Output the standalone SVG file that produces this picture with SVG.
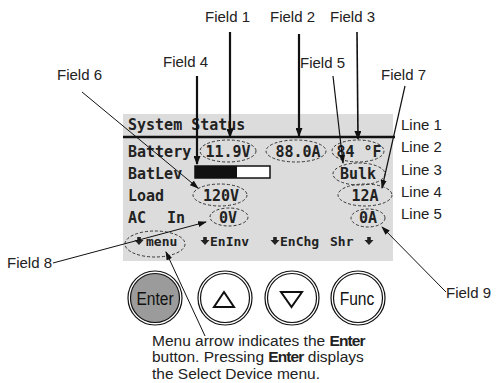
<svg xmlns="http://www.w3.org/2000/svg" width="496" height="383" viewBox="0 0 496 383">
<style>
.lbl{font-family:"Liberation Sans",Arial,sans-serif;font-size:15px;fill:#222}
.line{font-family:"Liberation Sans",Arial,sans-serif;font-size:15px;fill:#222}
.lcd{font-family:"DejaVu Sans Mono",monospace;font-size:15px;font-weight:bold;fill:#222}
.lcdv{font-family:"DejaVu Sans Mono",monospace;font-size:15px;font-weight:bold;fill:#222;text-anchor:middle}
.soft{font-family:"DejaVu Sans Mono",monospace;font-size:13px;font-weight:bold;fill:#222}
.dash{fill:none;stroke:#333;stroke-width:1;stroke-dasharray:3 2}
.btn{font-family:"Liberation Sans",Arial,sans-serif;font-size:19px;fill:#111;text-anchor:middle}
.ring{fill:#fff;stroke:#111;stroke-width:1.2}
.inner{fill:#fff;stroke:#111;stroke-width:1.2}
.tri{fill:none;stroke:#111;stroke-width:2;stroke-linejoin:miter}
.con{fill:none;stroke:#111}
.note{font-family:"Liberation Sans",Arial,sans-serif;font-size:15.5px;fill:#222}
.b{font-family:"Liberation Sans",Arial,sans-serif;font-weight:bold;letter-spacing:-0.9px}
</style>
<defs>
<marker id="ah" markerUnits="userSpaceOnUse" markerWidth="9" markerHeight="7" refX="8" refY="3.5" orient="auto">
<path d="M0,0 L9,3.5 L0,7 z" fill="#111"/>
</marker>
<marker id="ahs" markerUnits="userSpaceOnUse" markerWidth="9" markerHeight="6" refX="8" refY="3" orient="auto">
<path d="M0,0 L9,3 L0,6 z" fill="#111"/>
</marker>
<path id="darr" d="M-1.8,0 L1.8,0 L1.8,3 L4.5,3 L0,8 L-4.5,3 L-1.8,3 z" fill="#222"/>
</defs>

<g id="panel">
<rect x="123" y="114" width="270" height="147" fill="#dcdcdc"/>
<line x1="123" y1="137" x2="395" y2="137" stroke="#111" stroke-width="2.5"/>
<text class="lcd" x="128" y="130">System Status</text>
<text class="lcd" x="128" y="157">Battery</text>
<text class="lcd" x="128" y="179">BatLev</text>
<rect x="195" y="166" width="75" height="12" fill="#fff" stroke="#111" stroke-width="1.5"/>
<rect x="195" y="166" width="42" height="12" fill="#111"/>
<text class="lcd" x="128" y="201">Load</text>
<text class="lcd" x="128" y="223">AC <tspan x="167">In</tspan></text>
</g>

<g id="field1"><text class="lcdv" x="228" y="157">11.9V</text><ellipse class="dash" cx="228" cy="151" rx="28" ry="11"/></g>
<g id="field2"><text class="lcdv" x="298" y="157">88.0A</text><ellipse class="dash" cx="296" cy="151" rx="30" ry="11"/></g>
<g id="field3"><text class="lcdv" x="359" y="157">84 °F</text><ellipse class="dash" cx="358" cy="151" rx="26" ry="11"/></g>
<g id="field5"><text class="lcdv" x="358" y="179">Bulk</text><ellipse class="dash" cx="359" cy="174" rx="26" ry="11"/></g>
<g id="field6"><text class="lcdv" x="221" y="201">120V</text><ellipse class="dash" cx="220" cy="195" rx="27" ry="11"/></g>
<g id="field7"><text class="lcdv" x="365" y="201">12A</text><ellipse class="dash" cx="365" cy="195" rx="27" ry="11"/></g>
<g id="field8"><text class="lcdv" x="228" y="223">0V</text><ellipse class="dash" cx="229" cy="217" rx="19" ry="9"/></g>
<g id="field9"><text class="lcdv" x="368" y="223">0A</text><ellipse class="dash" cx="368" cy="218" rx="17" ry="9"/></g>

<g id="softkeys">
<use href="#darr" x="139" y="237"/><text class="soft" x="146" y="246">menu</text>
<ellipse class="dash" cx="155" cy="244" rx="30" ry="13"/>
<use href="#darr" x="205" y="237"/><text class="soft" x="210" y="246">EnInv</text>
<use href="#darr" x="275" y="237"/><text class="soft" x="280" y="246">EnChg</text>
<text class="soft" x="330" y="246">Shr</text><use href="#darr" x="369" y="237"/>
</g>

<g id="line-labels">
<text class="line" x="401" y="130">Line 1</text>
<text class="line" x="401" y="152">Line 2</text>
<text class="line" x="401" y="175">Line 3</text>
<text class="line" x="401" y="197">Line 4</text>
<text class="line" x="401" y="219">Line 5</text>
</g>

<g id="field-labels">
<text class="lbl" x="205" y="22">Field 1</text>
<text class="lbl" x="270" y="22">Field 2</text>
<text class="lbl" x="330" y="22">Field 3</text>
<text class="lbl" x="163" y="67">Field 4</text>
<text class="lbl" x="300" y="68">Field 5</text>
<text class="lbl" x="57" y="80">Field 6</text>
<text class="lbl" x="381" y="80">Field 7</text>
<text class="lbl" x="7" y="268">Field 8</text>
<text class="lbl" x="446" y="298">Field 9</text>
</g>

<g id="connectors">
<line class="con" x1="230" y1="32" x2="230" y2="137" stroke-width="2.2" marker-end="url(#ah)"/>
<line class="con" x1="299" y1="34" x2="299" y2="136" stroke-width="2.2" marker-end="url(#ah)"/>
<line class="con" x1="357" y1="32" x2="358" y2="139" stroke-width="1.6" marker-end="url(#ah)"/>
<line class="con" x1="197" y1="76" x2="197" y2="164" stroke-width="2.2" marker-end="url(#ah)"/>
<line class="con" x1="333" y1="76" x2="343" y2="163" stroke-width="1.2" marker-end="url(#ahs)"/>
<line class="con" x1="82" y1="92" x2="198" y2="188" stroke-width="1" marker-end="url(#ahs)"/>
<line class="con" x1="405" y1="86" x2="382" y2="188" stroke-width="1.2" marker-end="url(#ahs)"/>
<line class="con" x1="53" y1="263" x2="206" y2="222" stroke-width="1" marker-end="url(#ahs)"/>
<line class="con" x1="446" y1="292" x2="382" y2="227" stroke-width="1" marker-end="url(#ahs)"/>
<line class="con" x1="205" y1="336" x2="166" y2="252" stroke-width="1" marker-end="url(#ahs)"/>
</g>

<g id="btn-enter">
<circle class="ring" cx="155" cy="298" r="27"/>
<circle class="inner" cx="155" cy="298" r="24.5" style="fill:#9b9b9b"/>
<text class="btn" transform="translate(155,305) scale(0.82,1)">Enter</text>
</g>
<g id="btn-up">
<circle class="ring" cx="225" cy="298" r="27"/>
<circle class="inner" cx="225" cy="298" r="24.5"/>
<polygon class="tri" points="224,292 234,307 214,307"/>
</g>
<g id="btn-down">
<circle class="ring" cx="292" cy="298" r="27"/>
<circle class="inner" cx="292" cy="298" r="24.5"/>
<polygon class="tri" points="281,292 302,292 291.5,307"/>
</g>
<g id="btn-func">
<circle class="ring" cx="358" cy="298" r="27"/>
<circle class="inner" cx="358" cy="298" r="24.5"/>
<text class="btn" transform="translate(357,305) scale(0.82,1)">Func</text>
</g>

<g id="note">
<text class="note" x="152" y="346">Menu arrow indicates the <tspan class="b">Enter</tspan></text>
<text class="note" x="152" y="362">button. Pressing <tspan class="b">Enter</tspan> displays</text>
<text class="note" x="152" y="379">the Select Device menu.</text>
</g>
</svg>
